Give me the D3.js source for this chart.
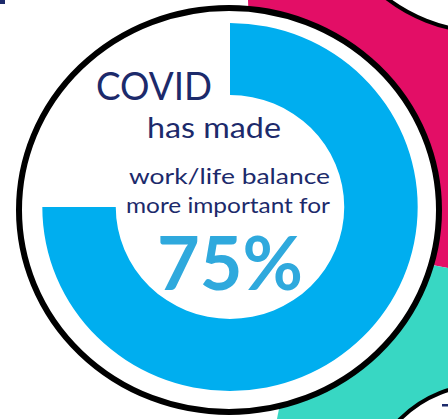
<!DOCTYPE html>
<html>
<head>
<meta charset="utf-8">
<script src="https://cdn.jsdelivr.net/npm/d3@7"></script>
<style>
  html, body { margin: 0; padding: 0; background: #ffffff; }
  svg { display: block; }
</style>
</head>
<body>
<svg id="chart" width="448" height="419"></svg>
<script>
// Share of respondents for whom COVID made work/life balance more important
const shareValue = 75;
const shareLabel = "75%";
const headlineLines = ["COVID", "has made", "work/life balance", "more important for"];
const scaleDomain = [0, 100];

const colors = {
  ring: "#00aeef",
  figure: "#2fa9dd",
  text: "#1c2a6b",
  pink: "#e30e66",
  teal: "#38d7c3",
  outline: "#000000"
};

const svg = d3.select("#chart");
const W = 448, H = 419;

// Decorative backdrop shapes on the right side
const bg = svg.append("g");
bg.append("path")
  .attr("d", "M248,0 L448,0 L448,268 L300,240 L250,60 Z")
  .attr("fill", colors.pink);
bg.append("path")
  .attr("d", "M448,268 L448,419 L277,419 L300,300 L350,250 Z")
  .attr("fill", colors.teal);

// neighbouring white badges peeking in at the corners
bg.append("circle")
  .attr("cx", 486).attr("cy", -131).attr("r", 163)
  .attr("fill", "#fff").attr("stroke", colors.outline).attr("stroke-width", 4);
bg.append("circle")
  .attr("cx", 482).attr("cy", 500).attr("r", 115)
  .attr("fill", "#fff").attr("stroke", colors.outline).attr("stroke-width", 4);
bg.append("rect")
  .attr("x", 442).attr("y", 404).attr("width", 6).attr("height", 2.5)
  .attr("fill", colors.text);
bg.append("rect")
  .attr("x", 0).attr("y", 0).attr("width", 5).attr("height", 4)
  .attr("fill", colors.text);

// Main badge
const cx = 229, cy = 210;
svg.append("ellipse")
  .attr("cx", cx).attr("cy", cy).attr("rx", 210).attr("ry", 202)
  .attr("fill", "#fff").attr("stroke", colors.outline).attr("stroke-width", 6);

// Progress ring: value mapped onto a full turn
const angle = d3.scaleLinear().domain(scaleDomain).range([0, 2 * Math.PI]);
const arc = d3.arc()
  .innerRadius(112)
  .outerRadius(184)
  .startAngle(angle(scaleDomain[0]))
  .endAngle(angle(shareValue));

svg.append("g")
  .attr("transform", `translate(${cx + 1},${cy - 3}) scale(1.02,1)`)
  .append("path")
  .attr("d", arc())
  .attr("fill", colors.ring);

// Headline text
const lines = [
  { text: headlineLines[0], x: 96,  y: 100, size: 38, len: 116 },
  { text: headlineLines[1], x: 147, y: 138, size: 28, len: 134 },
  { text: headlineLines[2], x: 129, y: 184, size: 22, len: 201 },
  { text: headlineLines[3], x: 126, y: 213, size: 22, len: 204 }
];
svg.append("g").selectAll("text")
  .data(lines)
  .join("text")
  .attr("x", d => d.x)
  .attr("y", d => d.y)
  .attr("font-family", "Lato, 'Open Sans', sans-serif")
  .attr("font-size", d => d.size)
  .attr("fill", colors.text)
  .attr("textLength", d => d.len)
  .attr("lengthAdjust", "spacingAndGlyphs")
  .text(d => d.text);

svg.append("text")
  .attr("x", 157)
  .attr("y", 290)
  .attr("font-family", "Lato, 'Open Sans', sans-serif")
  .attr("font-weight", 700)
  .attr("font-size", 75)
  .attr("fill", colors.figure)
  .attr("textLength", 146)
  .attr("lengthAdjust", "spacingAndGlyphs")
  .text(shareLabel);
</script>
</body>
</html>
